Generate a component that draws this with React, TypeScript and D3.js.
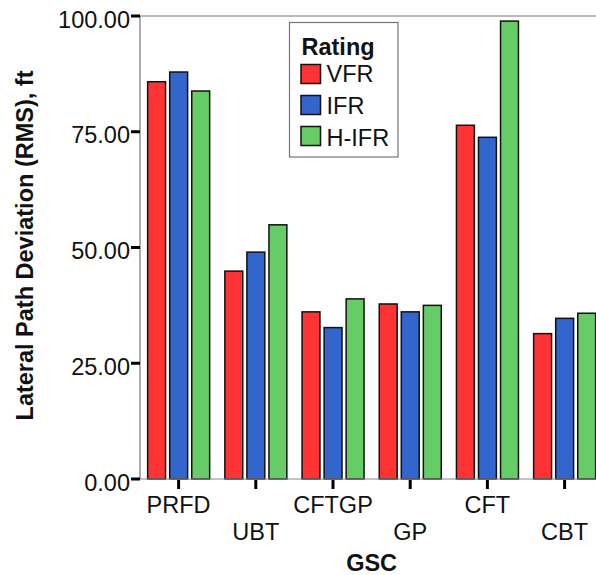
import React from "react";
import * as d3 from "d3";

const categories = ["PRFD", "UBT", "CFTGP", "GP", "CFT", "CBT"];
const series = ["VFR", "IFR", "H-IFR"];
const vfrValues = [85.8, 44.9, 36.1, 37.8, 76.4, 31.4];
const ifrValues = [87.9, 49.0, 32.7, 36.1, 73.8, 34.7];
const hifrValues = [83.8, 54.9, 38.9, 37.5, 98.9, 35.8];
const yTicks = [0, 25, 50, 75, 100];
const colors = ["#ff3333", "#3366cc", "#66cc66"];

const W = 596;
const H = 575;
const left = 140;
const top = 16;
const bottom = 479;
const step = 77.2;
const fs = 23.5;

export default function App() {
  const allValues = [vfrValues, ifrValues, hifrValues];
  const x0 = d3
    .scaleBand<string>()
    .domain(categories)
    .range([left, left + step * categories.length])
    .padding(0);
  const x1 = d3
    .scaleBand<string>()
    .domain(series)
    .range([6.9, 70.4])
    .paddingInner(0.12)
    .paddingOuter(0);
  const y = d3.scaleLinear().domain([0, 100]).range([bottom, top]);
  const font = "'Liberation Sans', Arial, sans-serif";

  return (
    <svg
      width={W}
      height={H}
      style={{ position: "absolute", left: 0, top: 0, background: "#fff" }}
      fontFamily={font}
    >
      {/* frame */}
      <line x1={left} x2={W} y1={top} y2={top} stroke="#777" strokeWidth={1.2} />
      <line x1={left} x2={left} y1={top} y2={bottom} stroke="#777" strokeWidth={1.2} />
      {/* bars */}
      {categories.map((c, ci) => (
        <g key={c} transform={`translate(${x0(c)},0)`}>
          {series.map((s, si) => {
            const v = allValues[si][ci];
            return (
              <rect
                key={s}
                x={x1(s)! + 0.75}
                y={y(v)}
                width={x1.bandwidth() - 1.5}
                height={bottom - y(v)}
                fill={colors[si]}
                stroke="#111"
                strokeWidth={1.5}
              />
            );
          })}
        </g>
      ))}
      <line x1={left} x2={W} y1={bottom} y2={bottom} stroke="#888" strokeWidth={1.2} />
      {/* y ticks */}
      {yTicks.map((t) => (
        <g key={t}>
          <line x1={131} x2={140} y1={y(t)} y2={y(t)} stroke="#000" strokeWidth={3} />
          <text
            x={130}
            y={y(t) + 11.5}
            textAnchor="end"
            fontSize={fs}
            fill="#111"
          >
            {d3.format(".2f")(t)}
          </text>
        </g>
      ))}
      {/* x ticks */}
      {categories.map((c, i) => {
        const cx = x0(c)! + x0.bandwidth() / 2;
        return (
          <g key={c}>
            <line x1={cx} x2={cx} y1={bottom + 1} y2={bottom + 10} stroke="#000" strokeWidth={3} />
            <text x={cx} y={i % 2 === 0 ? 513 : 540} textAnchor="middle" fontSize={fs} fill="#111">
              {c}
            </text>
          </g>
        );
      })}
      {/* axis titles */}
      <text
        x={(left + left + step * categories.length) / 2}
        y={570.5}
        textAnchor="middle"
        fontSize={fs}
        fontWeight="bold"
        fill="#111"
      >
        GSC
      </text>
      <text
        transform={`translate(33,245.5) rotate(-90)`}
        textAnchor="middle"
        fontSize={fs}
        fontWeight="bold"
        fill="#111"
      >
        Lateral Path Deviation (RMS), ft
      </text>
      {/* legend */}
      <rect x={289.5} y={22.5} width={108.5} height={134.5} fill="#fff" stroke="#777" strokeWidth={1.2} />
      <text x={301.5} y={55} fontSize={fs} fontWeight="bold" fill="#111">
        Rating
      </text>
      {series.map((s, i) => (
        <g key={s}>
          <rect
            x={301}
            y={64.5 + i * 31}
            width={19.5}
            height={19}
            fill={colors[i]}
            stroke="#111"
            strokeWidth={1.5}
          />
          <text x={326.5} y={82 + i * 31.8} fontSize={fs} fill="#111">
            {s}
          </text>
        </g>
      ))}
    </svg>
  );
}
